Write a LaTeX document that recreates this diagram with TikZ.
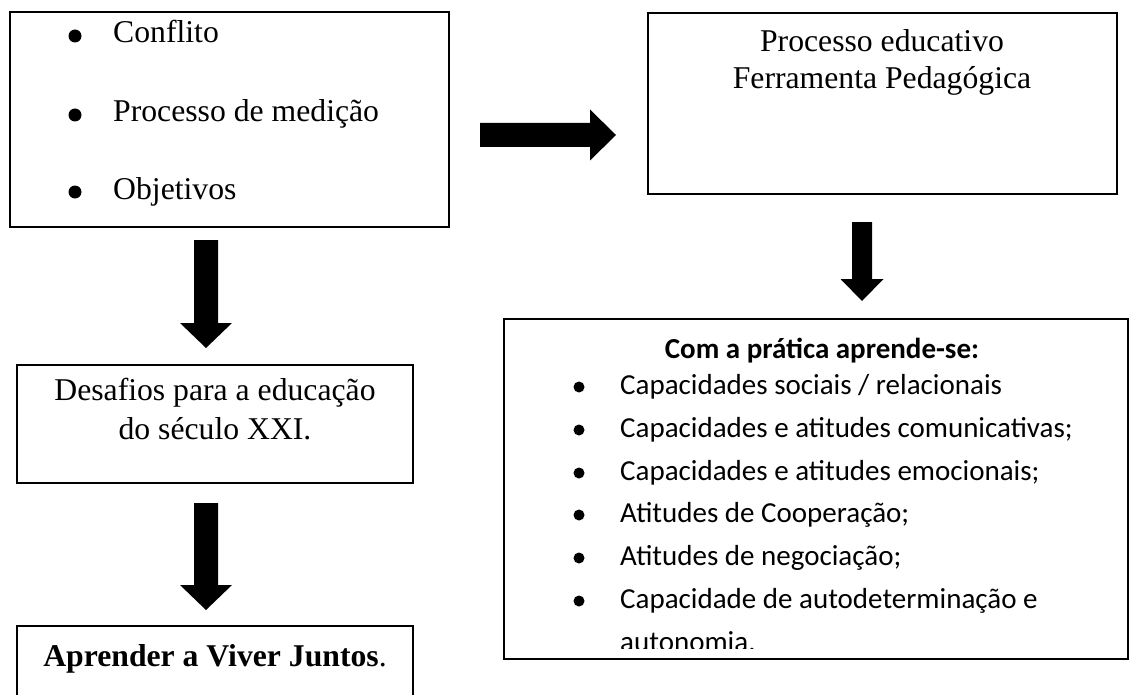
\documentclass[tikz,border=0pt]{standalone}
\usepackage{fontspec}
\setmainfont{Liberation Serif}
\newfontfamily\calfont{Carlito}
\usetikzlibrary{calc}
\begin{document}
\begin{tikzpicture}[x=1pt,y=-1pt,
  box/.style={draw, line width=2pt, inner sep=0pt, outer sep=0pt},
  tnr/.style={font=\fontsize{31.7}{38}\selectfont, anchor=base, inner sep=0pt},
  cal/.style={font=\calfont\fontsize{29}{35}\selectfont, anchor=base west, inner sep=0pt},
  blk/.style={fill=black}]
\useasboundingbox (0,0) rectangle (1131,695);
\fill[white] (0,0) rectangle (1131,695);

% boxes
\node[box, line width=2.5pt, minimum width=439, minimum height=215] (b1) at (229.5,119.5) {};
\node[box, minimum width=469, minimum height=181] (b2) at (882.5,103.5) {};
\node[box, minimum width=624, minimum height=340] (b3) at (816,489) {};
\node[box, minimum width=396, minimum height=118] (b4) at (215,424) {};
\node[box, minimum width=396, minimum height=94] (b5) at (215,673) {};

% box 1 text
\foreach \yy in {36,115,192} \fill (75,\yy) circle (6.5);
\node[tnr, anchor=base west] (t1) at (113,43) {Conflito};
\node[tnr, anchor=base west] (t2) at (113,122) {Processo de medição};
\node[tnr, anchor=base west] (t3) at (113,199) {Objetivos};

% box 2 text
\node[tnr] (t4) at (882,52) {Processo educativo};
\node[tnr] (t5) at (882,89) {Ferramenta Pedagógica};

% box 4 / 5 text
\node[tnr] (t6) at (215,400) {Desafios para a educação};
\node[tnr] (t7) at (215,439) {do século XXI.};
\node[tnr] (t8) at (215,666) {\textbf{Aprender a Viver Juntos}.};

% box 3 text
\node[cal, anchor=base, font=\calfont\bfseries\fontsize{29}{35}\selectfont] (t9) at (822,358) {Com a prática aprende-se:};
\foreach \yy in {387,430,473,515,558,601} \fill (579,\yy) circle (5.5);
\node[cal] (i1) at (620,394) {Capacidades sociais / relacionais};
\node[cal] (i2) at (620,437) {Capacidades e atitudes comunicativas;};
\node[cal] (i3) at (620,480) {Capacidades e atitudes emocionais;};
\node[cal] (i4) at (620,522) {Atitudes de Cooperação;};
\node[cal] (i5) at (620,565) {Atitudes de negociação;};
\node[cal] (i6) at (620,608) {Capacidade de autodeterminação e};
\begin{scope}
  \clip (505,320) rectangle (1127,648);
  \node[cal] (i7) at (620,651) {autonomia.};
\end{scope}

% block arrows
\coordinate (a1s) at (206,240); \coordinate (a1e) at (206,348);
\fill ($(a1s)+(-12,0)$) -- ($(a1s)+(12,0)$) -- ($(a1e)+(12,-25)$) -- ($(a1e)+(26,-25)$) -- (a1e) -- ($(a1e)+(-26,-25)$) -- ($(a1e)+(-12,-25)$) -- cycle;

\coordinate (a2s) at (206,503); \coordinate (a2e) at (206,610);
\fill ($(a2s)+(-12,0)$) -- ($(a2s)+(12,0)$) -- ($(a2e)+(12,-25)$) -- ($(a2e)+(26,-25)$) -- (a2e) -- ($(a2e)+(-26,-25)$) -- ($(a2e)+(-12,-25)$) -- cycle;

\coordinate (a3s) at (480,135); \coordinate (a3e) at (616,135);
\fill ($(a3s)+(0,-12)$) -- ($(a3e)+(-26,-12)$) -- ($(a3e)+(-26,-25.5)$) -- (a3e) -- ($(a3e)+(-26,25.5)$) -- ($(a3e)+(-26,12)$) -- ($(a3s)+(0,12)$) -- cycle;

\coordinate (a4s) at (862,222); \coordinate (a4e) at (862,301);
\fill ($(a4s)+(-10,0)$) -- ($(a4s)+(10,0)$) -- ($(a4e)+(10,-22)$) -- ($(a4e)+(21.5,-22)$) -- (a4e) -- ($(a4e)+(-21.5,-22)$) -- ($(a4e)+(-10,-22)$) -- cycle;
\end{tikzpicture}
\end{document}
